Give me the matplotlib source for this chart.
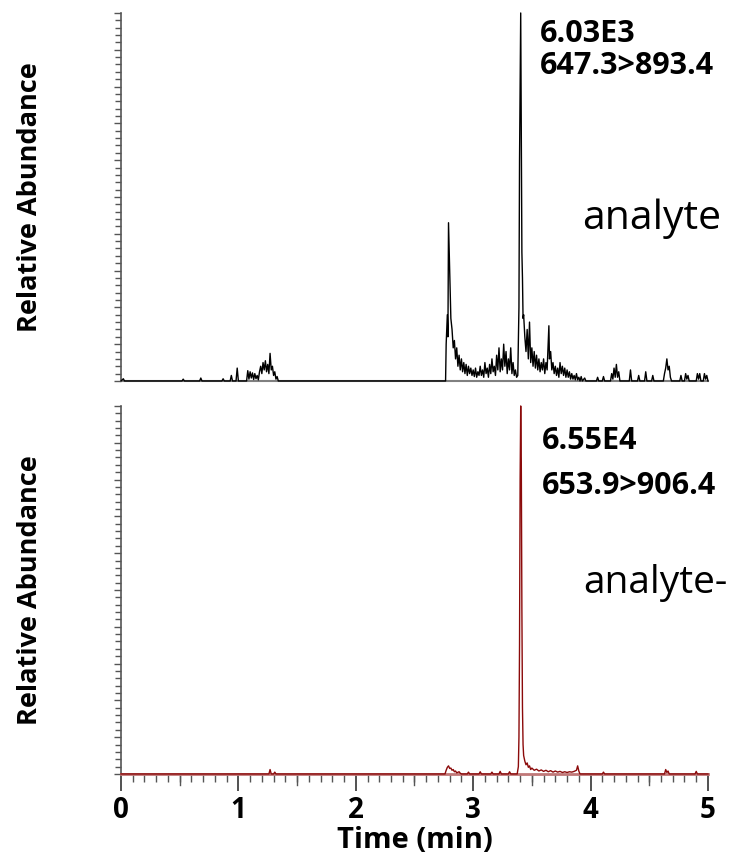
import matplotlib.pyplot as plt
from matplotlib.ticker import MultipleLocator

t_analyte = [0.00, 0.02, 0.03, 0.52, 0.53, 0.54, 0.67, 0.68, 0.69, 0.86, 0.87, 0.88,
             0.93, 0.94, 0.95, 0.98, 0.99, 1.00, 1.07, 1.08, 1.09, 1.10, 1.11, 1.12,
             1.13, 1.14, 1.15, 1.16, 1.17, 1.18, 1.19, 1.20, 1.21, 1.22, 1.23, 1.24,
             1.25, 1.26, 1.27, 1.28, 1.29, 1.30, 1.31, 1.32, 1.33, 1.34, 2.765, 2.77,
             2.78, 2.785, 2.79, 2.80, 2.81, 2.82, 2.83, 2.84, 2.85, 2.86, 2.87, 2.88,
             2.89, 2.90, 2.91, 2.92, 2.93, 2.94, 2.95, 2.96, 2.97, 2.98, 2.99, 3.00,
             3.01, 3.02, 3.03, 3.04, 3.05, 3.06, 3.07, 3.08, 3.09, 3.10, 3.11, 3.12,
             3.13, 3.14, 3.15, 3.16, 3.17, 3.18, 3.19, 3.20, 3.21, 3.22, 3.23, 3.24,
             3.25, 3.26, 3.27, 3.28, 3.29, 3.30, 3.31, 3.32, 3.33, 3.34, 3.35, 3.36,
             3.37, 3.38, 3.39, 3.395, 3.405, 3.41, 3.415, 3.42, 3.425, 3.43, 3.44, 3.45,
             3.46, 3.47, 3.48, 3.49, 3.50, 3.51, 3.52, 3.53, 3.54, 3.55, 3.56, 3.57,
             3.58, 3.59, 3.60, 3.61, 3.62, 3.63, 3.645, 3.65, 3.66, 3.67, 3.68, 3.69,
             3.70, 3.71, 3.72, 3.73, 3.74, 3.75, 3.76, 3.77, 3.78, 3.79, 3.80, 3.81,
             3.82, 3.83, 3.84, 3.85, 3.86, 3.87, 3.88, 3.89, 3.90, 3.91, 3.92, 3.93,
             3.95, 3.96, 4.05, 4.06, 4.07, 4.10, 4.11, 4.12, 4.17, 4.18, 4.19, 4.20,
             4.21, 4.22, 4.23, 4.24, 4.25, 4.33, 4.34, 4.35, 4.40, 4.41, 4.42, 4.46,
             4.47, 4.48, 4.52, 4.53, 4.54, 4.62, 4.63, 4.64, 4.65, 4.66, 4.67, 4.68,
             4.69, 4.76, 4.77, 4.78, 4.80, 4.81, 4.82, 4.83, 4.84, 4.90, 4.91, 4.92,
             4.93, 4.94, 4.96, 4.97, 4.98, 4.99, 5.00]
y_analyte = [0, 0.6, 0, 0, 0.5, 0, 0, 0.8, 0, 0, 0.6, 0,
             0, 1.5, 0, 0, 3.5, 0, 0, 2.8, 0.5, 2.5, 0.8, 2.2,
             0.4, 2.0, 0.6, 1.5, 0.3, 2.5, 4.0, 2.0, 5.0, 3.0, 5.5, 2.5,
             4.5, 2.0, 7.5, 3.0, 4.0, 1.5, 2.5, 0.5, 1.2, 0, 0, 10,
             18, 12, 43, 30, 17, 14, 9, 11, 6, 9, 4, 7,
             3, 6, 2.5, 5, 2, 4.5, 1.5, 4, 2, 3.5, 1.5, 3,
             1.2, 3.5, 1, 2.5, 1.5, 4, 1.5, 3, 1, 5, 2, 3.5,
             1, 4.5, 2, 6, 2.5, 4, 1.5, 7, 3, 9, 2.5, 6,
             3, 10, 4, 8, 2, 6, 3, 9, 2, 5, 1.5, 3,
             1.0, 1.5, 20, 60, 100, 70, 35, 28, 17, 18, 12, 8,
             14, 6, 16, 5, 9, 4, 8, 3.5, 7, 3, 6, 2.5,
             5, 3, 6, 2, 5, 3, 15, 6, 8, 3, 5, 2,
             4, 1.5, 3.5, 1, 5, 2, 4, 1.5, 3.5, 1, 3, 1,
             2.5, 0.5, 2, 0.5, 1.5, 0.3, 2, 0.3, 1, 0, 1.2, 0,
             0.8, 0, 0, 1, 0, 0, 1.2, 0, 0, 2, 0.5, 3.5,
             1, 4.5, 1, 2.5, 0, 0, 3, 0, 0, 1.5, 0, 0,
             2.5, 0, 0, 1.5, 0, 0, 2, 3.5, 6, 3, 4, 1,
             0, 0, 1.5, 0, 0, 2, 0.5, 1.5, 0, 0, 2, 0.5,
             2, 0, 0, 2, 0.5, 1.5, 0]

t_istd = [0.00, 1.26, 1.27, 1.28, 1.30, 1.31, 1.32, 2.76, 2.77, 2.78, 2.79, 2.80,
          2.81, 2.82, 2.83, 2.84, 2.85, 2.86, 2.88, 2.89, 2.90, 2.95, 2.96, 2.97,
          3.05, 3.06, 3.07, 3.15, 3.16, 3.17, 3.22, 3.23, 3.24, 3.30, 3.31, 3.32,
          3.375, 3.385, 3.39, 3.395, 3.40, 3.405, 3.41, 3.415, 3.42, 3.425, 3.43, 3.44,
          3.45, 3.46, 3.47, 3.48, 3.49, 3.50, 3.52, 3.54, 3.56, 3.58, 3.60, 3.62,
          3.64, 3.66, 3.68, 3.70, 3.72, 3.74, 3.76, 3.78, 3.80, 3.82, 3.84, 3.86,
          3.88, 3.89, 3.90, 3.91, 4.10, 4.11, 4.12, 4.63, 4.64, 4.65, 4.66, 4.67,
          4.89, 4.90, 4.91, 5.00]
y_istd = [0, 0, 1.2, 0, 0, 0.5, 0, 0, 1.0, 1.8, 2.2, 1.5,
          1.6, 1.0, 1.2, 0.6, 0.8, 0.3, 0.6, 0.2, 0, 0, 0.5, 0,
          0, 0.6, 0, 0, 0.5, 0, 0, 0.7, 0, 0, 0.6, 0,
          0, 2, 10, 35, 80, 100, 85, 45, 18, 8, 5, 3.5,
          2.5, 3, 1.8, 2.2, 1.2, 1.6, 1.0, 1.3, 0.8, 1.1, 0.7, 1.0,
          0.6, 0.9, 0.5, 0.8, 0.5, 0.7, 0.4, 0.6, 0.4, 0.6, 0.5, 0.7,
          1.0, 2.2, 0.8, 0, 0, 0.5, 0, 0, 1.2, 0.4, 0.8, 0,
          0, 0.7, 0, 0]

xticks = [0, 1, 2, 3, 4, 5]

panels = [
    (t_analyte, y_analyte, 'black', '6.03E3', '647.3>893.4', 'analyte'),
    (t_istd, y_istd, '#8b0a0a', '6.55E4', '653.9>906.4', 'analyte-'),
]
# posiciones (fraccion de ejes) y tamano del texto de analito de cada panel
text_pos = [((0.714, 0.944), (0.714, 0.857), (0.785, 0.44), 29.5),
            ((0.717, 0.905), (0.717, 0.783), (0.788, 0.52), 28)]

plt.rcParams['font.family'] = ['Open Sans', 'DejaVu Sans']

fig = plt.figure(figsize=(7.35, 8.59), dpi=100)
ax_top = fig.add_axes([0.1646, 0.5565, 0.7986, 0.4284])
ax_bot = fig.add_axes([0.1646, 0.0990, 0.7986, 0.4284])

for ax, (t, y, color, scale, trans, name), pos in zip([ax_top, ax_bot], panels, text_pos):
    ax.plot(t, y, color=color, lw=1.0, clip_on=False, zorder=3)
    ax.set_xlim(0, 5)
    ax.set_ylim(0, 100)
    for s in ['top', 'right']:
        ax.spines[s].set_visible(False)
    ax.spines['left'].set_color('#555555')
    ax.spines['left'].set_linewidth(1.2)
    ax.yaxis.set_major_locator(MultipleLocator(10))
    ax.yaxis.set_minor_locator(MultipleLocator(2))
    ax.tick_params(axis='y', which='major', length=5, width=1, color='#555555', labelleft=False)
    ax.tick_params(axis='y', which='minor', length=4, width=1, color='#555555')

    ax.text(*pos[0], scale, transform=ax.transAxes, fontsize=22,
            fontweight='bold', va='center', ha='left')
    ax.text(*pos[1], trans, transform=ax.transAxes, fontsize=22,
            fontweight='bold', va='center', ha='left')
    ax.text(*pos[2], name, transform=ax.transAxes, fontsize=pos[3],
            va='center', ha='left', clip_on=False)

ax_top.spines['bottom'].set_color('#808080')
ax_top.spines['bottom'].set_linewidth(1.5)
ax_top.tick_params(axis='x', bottom=False, labelbottom=False)

ax_bot.spines['bottom'].set_color('#c07878')
ax_bot.spines['bottom'].set_linewidth(2.0)
ax_bot.set_xticks(xticks)
ax_bot.set_xticklabels([str(v) for v in xticks], fontsize=20, fontweight='bold')
ax_bot.xaxis.set_minor_locator(MultipleLocator(0.1))
ax_bot.tick_params(axis='x', which='major', length=12, width=1.2, color='#333333', pad=4)
ax_bot.tick_params(axis='x', which='minor', length=6, width=1, color='#555555')
# ticks mas largos cada 0.5 min
for xm in [0.5, 1.5, 2.5, 3.5, 4.5]:
    ax_bot.plot([xm, xm], [0, -0.03], transform=ax_bot.get_xaxis_transform(),
                color='#555555', lw=1, clip_on=False)

fig.text(0.565, 0.021, 'Time (min)', fontsize=21, fontweight='bold',
         ha='center', va='center')
fig.text(0.041, 0.77, 'Relative Abundance', rotation=90, fontsize=19.5,
         fontweight='bold', ha='center', va='center')
fig.text(0.041, 0.313, 'Relative Abundance', rotation=90, fontsize=19.5,
         fontweight='bold', ha='center', va='center')

fig.savefig('out.png', dpi=100)
